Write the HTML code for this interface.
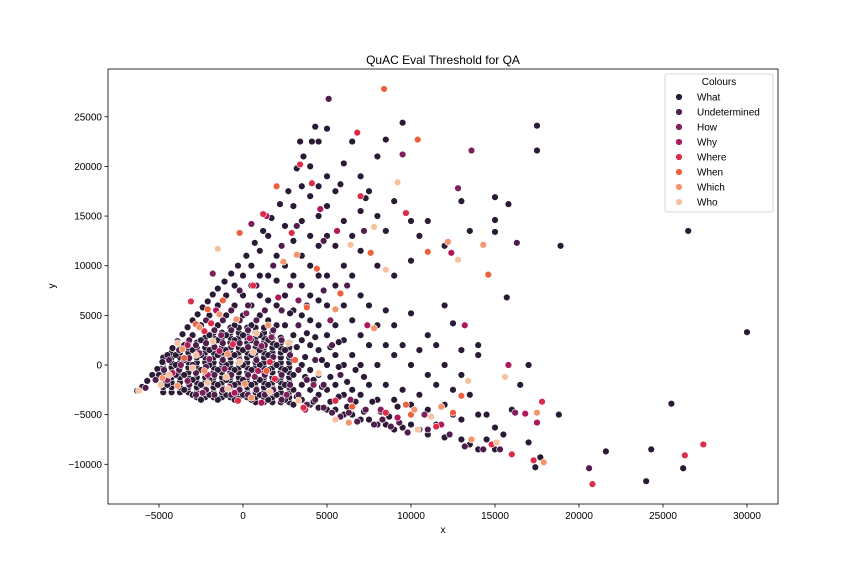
<!DOCTYPE html>
<html><head><meta charset="utf-8"><style>
body{margin:0;background:#fff;}
svg text{font-family:"Liberation Sans","DejaVu Sans",sans-serif;fill:#000;}
</style></head><body>
<svg id="chart" width="864" height="576" viewBox="0 0 864 576" xmlns="http://www.w3.org/2000/svg">
<rect width="864" height="576" fill="#fff"/>
<text x="443" y="64" text-anchor="middle" font-size="12">QuAC Eval Threshold for QA</text>
<g id="marks"></g>
<rect x="108" y="69" width="670" height="435" fill="none" stroke="#000" stroke-width="0.8"/>
<g id="xticks"></g>
<g id="yticks"></g>
<text x="443" y="533" text-anchor="middle" font-size="10">x</text>
<text x="55" y="286" text-anchor="middle" font-size="10" transform="rotate(-90 55 286)">y</text>
<g id="legend">
<rect x="665" y="74" width="108" height="138" rx="2" fill="#fff" fill-opacity="0.8" stroke="#ccc" stroke-width="0.8"/>
<text x="719" y="85" text-anchor="middle" font-size="10">Colours</text>
</g>
</svg>
<script>
const categories = ["What","Undetermined","How","Why","Where","When","Which","Who"];
const colors = ["#2a1a36","#511d4d","#7f1f5b","#b1185a","#dd2c49","#ee5f3e","#f5946b","#f6c19f"];
const xTicks = [-5000,0,5000,10000,15000,20000,25000,30000];
const yTicks = [-10000,-5000,0,5000,10000,15000,20000,25000];
// values in thousands: x,y pairs
const whatPts = [-6.3,-2.6,-6.0,-2.2,-5.7,-1.6,-5.4,-1.0,-5.1,-0.4,-4.8,0.3,-4.5,1.0,-4.2,1.7,-3.9,2.4,-3.6,3.1,-3.3,3.8,-3.0,4.5,-2.7,5.1,-2.4,5.8,-2.1,6.4,-1.8,7.1,-1.5,7.7,-1.1,8.4,-0.7,9.2,-0.3,10,0.2,11,0.7,12.3,1.2,13.5,1.7,14.8,2.2,16.2,2.7,17.5,3.2,19.8,3.6,21,4.1,22.5,4.3,24,5,23.8,
-5,-1,-4.5,-2,-4,-1,-4,0,-4,1,-3.5,-2.5,-3.5,-1,-3.5,0.5,-3.5,2,-3,-3,-3,-1.5,-3,0,-3,1.5,-3,3,-2.5,-3.5,-2.5,-2,-2.5,-0.5,-2.5,1,-2.5,2.5,-2.5,4,-2,-3,-2,-1.5,-2,0,-2,1.5,-2,3,-2,5,-1.5,-3.5,-1.5,-2,-1.5,-0.5,-1.5,1,-1.5,2.5,-1.5,4,-1.5,6,-1,-3,-1,-1.5,-1,0,-1,1.5,-1,3,-1,5,-1,7,-0.5,-3.5,-0.5,-2,-0.5,-0.5,-0.5,1,-0.5,2.5,-0.5,4,-0.5,6,-0.5,8,0,-3,0,-1.5,0,0,0,1.5,0,3,0,5,0,7,0,9,0.5,-3.5,0.5,-2,0.5,-0.5,0.5,1,0.5,2.5,0.5,4,0.5,6,0.5,8,0.5,10,1,-3,1,-1.5,1,0,1,1.5,1,3,1,5,1,7,1,9,1,11.5,1.5,-3.5,1.5,-2,1.5,-0.5,1.5,1,1.5,2.5,1.5,4.5,1.5,6.5,1.5,9,1.5,13,2,-3,2,-1.5,2,0,2,2,2,4,2,6,2,8.5,2,11,2.5,-3.5,2.5,-2,2.5,-0.5,2.5,1.5,2.5,4,2.5,7,2.5,10,2.5,14,3,-4,3,-2.5,3,-1,3,0.5,3,3,3,5.5,3,9,3,12.5,3,16,3.5,-3.5,3.5,-2,3.5,0,3.5,2.5,3.5,5,3.5,8,3.5,11,3.5,14.5,3.5,18,4,-4,4,-2.5,4,-0.5,4,2,4,4.5,4,7,4,10,4,13,4,17,4,20,4.5,-4.3,4.5,-3,4.5,-1,4.5,1.5,4.5,4,4.5,6.5,4.5,9,4.5,12,4.5,15,4.5,18,4.5,22.5,5,-4.5,5,-2.5,5,0,5,3,5,6,5,9,5,13,5,16,5,19,5.5,-4.5,5.5,-2,5.5,1,5.5,4,5.5,8,5.5,12,5.5,17.5,6,-5,6,-3,6,0,6,2.5,6,6,6,10,6,14.5,6,20.3,6.5,-5,6.5,-2.5,6.5,1,6.5,4.5,6.5,9,6.5,13,6.5,22.5,7,-5.5,7,-3,7,0,7,3,7,7,7,11.5,7,15.5,7,19,7.5,-5.5,7.5,-2,7.5,2,7.5,6,7.5,17.5,8,-6,8,-3.5,8,0,8,4,8,10,8,15,8,21,8.5,-6,8.5,-2,8.5,2,8.5,5.5,8.5,13.5,8.5,22.7,9,-6.5,9,-3.5,9,1,9,4,9,9,9,16.5,9.5,-6.3,9.5,-2.5,9.5,2,9.5,24.4,10,-6,10,-4,10,0,10,5.2,10,10.5,10,14.5,10.5,-6.5,10.5,-3,10.5,1.5,10.5,13,11,-7,11,-4.5,11,-1,11,3,11,14.5,11.5,-6,11.5,-2,11.5,2,12,-7.3,12,-4,12,0,12,6,12,12,12.5,-5,12.5,-2.5,12.5,4.2,13,-7.5,13,-5.5,13,-1,13,1.5,13,16.5,13.5,-8,13.5,-3,13.5,13.5,14,-8.5,14,-5,14,1,14,2,14.5,-7.5,14.5,-5,15,-8.5,15,-6.3,15,13.4,15,14.6,15,16.9,15.5,-7,15.7,6.8,15.8,16.2,16,-9,16,-4.5,16.5,-2,17,0,17,-7.8,17.4,-10.3,17.5,24.1,17.5,21.6,17.7,-9.3,18.8,-5,18.9,12,21.6,-8.7,24,-11.7,24.3,-8.5,25.5,-3.9,26.2,-10.4,26.5,13.5,30,3.3,7.3,16.8,5.8,18.2,3.4,22.5,
3.2,-3.2,3.7,-1.2,4.2,-3.7,4.7,-2.2,5.2,-3.7,5.7,-3.2,6.2,-4.2,6.7,-3.7,7.2,-4.7,7.7,-3.7,8.2,-4.7,8.7,-5.2,9.2,-4.2,3.2,1.8,3.7,0.8,4.2,-1.5,4.7,0.5,5.2,-1.2,5.7,-0.2,6.2,-1.7,6.7,-0.5,7.2,-1.2,5.2,1.8,3.8,3.2,4.3,2.8,2.8,5.2,5.7,2.3];
const undeterminedPts = [-5.8,-2.3,-5.2,-1.5,-4.7,-0.5,-4.4,0.5,-3.8,-0.5,-3.8,1.5,-3.2,-2,-3.2,0.7,-3.2,2.5,-2.8,-3,-2.8,-0.8,-2.8,2,-2.2,-2.5,-2.2,-0.2,-2.2,2.2,-2.2,4.5,-1.7,-3,-1.7,-1,-1.7,1.8,-1.7,3.5,-1.2,-2.5,-1.2,0.5,-1.2,2.2,-1.2,4.5,-1.2,6.5,-0.7,-3,-0.7,-1,-0.7,1.8,-0.7,3.5,-0.7,5.5,-0.2,-2.5,-0.2,0.5,-0.2,2.2,-0.2,4.5,-0.2,7.5,0.3,-3,0.3,-1,0.3,1.8,0.3,3.5,0.3,6,0.8,-2.5,0.8,0.5,0.8,2.2,0.8,4.5,0.8,8,1.3,-3,1.3,-1,1.3,2,1.3,5.5,1.8,-2.5,1.8,0.8,1.8,3.5,1.8,10,2.3,-3.5,2.3,-1,2.3,2.5,2.3,5.5,2.8,-2,2.8,1,2.8,8,3.3,-3,3.3,-0.5,3.3,4,3.8,-4,3.8,-1.5,3.8,6,4.3,-3.5,4.3,0.5,4.8,-4.3,4.8,-2,4.8,7.5,5.3,-4.8,5.3,2,5.1,26.8,5.8,-5.2,5.8,-1,6.3,-4.8,6.8,-5.7,7.3,-4.5,7.8,-6,8.3,-5.5,8.8,-6.2,9.3,-5.8,9.8,-6.8,11,-6.5,12.3,-7,13.2,-8.2,14.3,-8.5,16.3,12.3,20.6,-10.4,15.3,-8.5,4.8,12.5,6.2,8,7.2,13.5,3.2,14,2.3,12];
const coreWhatPts = [
0.75,-3.75,1.25,-3.75,1.75,-3.75,2.25,-3.75,2.75,-3.75,
-2.75,-3.25,-2.25,-3.25,-1.75,-3.25,-1.25,-3.25,-0.75,-3.25,-0.25,-3.25,0.25,-3.25,0.75,-3.25,1.25,-3.25,1.75,-3.25,2.25,-3.25,2.75,-3.25,
-4.75,-2.75,-4.25,-2.75,-3.75,-2.75,-3.25,-2.75,-2.75,-2.75,-2.25,-2.75,-1.75,-2.75,-1.25,-2.75,-0.75,-2.75,-0.25,-2.75,0.25,-2.75,0.75,-2.75,1.25,-2.75,1.75,-2.75,2.25,-2.75,2.75,-2.75,
-4.75,-2.25,-4.25,-2.25,-3.75,-2.25,-3.25,-2.25,-2.75,-2.25,-2.25,-2.25,-1.75,-2.25,-1.25,-2.25,-0.75,-2.25,-0.25,-2.25,0.25,-2.25,0.75,-2.25,1.25,-2.25,1.75,-2.25,2.25,-2.25,2.75,-2.25,
-4.75,-1.75,-4.25,-1.75,-3.75,-1.75,-3.25,-1.75,-2.75,-1.75,-2.25,-1.75,-1.75,-1.75,-1.25,-1.75,-0.75,-1.75,-0.25,-1.75,0.25,-1.75,0.75,-1.75,1.25,-1.75,1.75,-1.75,2.25,-1.75,2.75,-1.75,
-4.75,-1.25,-4.25,-1.25,-3.75,-1.25,-3.25,-1.25,-2.75,-1.25,-2.25,-1.25,-1.75,-1.25,-1.25,-1.25,-0.75,-1.25,-0.25,-1.25,0.25,-1.25,0.75,-1.25,1.25,-1.25,1.75,-1.25,2.25,-1.25,2.75,-1.25,
-4.75,-0.75,-4.25,-0.75,-3.75,-0.75,-3.25,-0.75,-2.75,-0.75,-2.25,-0.75,-1.75,-0.75,-1.25,-0.75,-0.75,-0.75,-0.25,-0.75,0.25,-0.75,0.75,-0.75,1.25,-0.75,1.75,-0.75,2.25,-0.75,2.75,-0.75,
-4.75,-0.25,-4.25,-0.25,-3.75,-0.25,-3.25,-0.25,-2.75,-0.25,-2.25,-0.25,-1.75,-0.25,-1.25,-0.25,-0.75,-0.25,-0.25,-0.25,0.25,-0.25,0.75,-0.25,1.25,-0.25,1.75,-0.25,2.25,-0.25,2.75,-0.25,
-4.75,0.25,-4.25,0.25,-3.75,0.25,-3.25,0.25,-2.75,0.25,-2.25,0.25,-1.75,0.25,-1.25,0.25,-0.75,0.25,-0.25,0.25,0.25,0.25,0.75,0.25,1.25,0.25,1.75,0.25,2.25,0.25,2.75,0.25,
-4.75,0.75,-4.25,0.75,-3.75,0.75,-3.25,0.75,-2.75,0.75,-2.25,0.75,-1.75,0.75,-1.25,0.75,-0.75,0.75,-0.25,0.75,0.25,0.75,0.75,0.75,1.25,0.75,1.75,0.75,2.25,0.75,2.75,0.75,
-4.25,1.25,-3.75,1.25,-3.25,1.25,-2.75,1.25,-2.25,1.25,-1.75,1.25,-1.25,1.25,-0.75,1.25,-0.25,1.25,0.25,1.25,0.75,1.25,1.25,1.25,1.75,1.25,2.25,1.25,2.75,1.25,
-3.75,1.75,-3.25,1.75,-2.75,1.75,-2.25,1.75,-1.75,1.75,-1.25,1.75,-0.75,1.75,-0.25,1.75,0.25,1.75,0.75,1.75,1.25,1.75,1.75,1.75,2.25,1.75,2.75,1.75,
-3.25,2.25,-2.75,2.25,-2.25,2.25,-1.75,2.25,-1.25,2.25,-0.75,2.25,-0.25,2.25,0.25,2.25,0.75,2.25,1.25,2.25,1.75,2.25,2.25,2.25,2.75,2.25,
-2.25,2.75,-1.75,2.75,-1.25,2.75,-0.75,2.75,-0.25,2.75,0.25,2.75,0.75,2.75,1.25,2.75,1.75,2.75,2.25,2.75,
-1.75,3.25,-1.25,3.25,-0.75,3.25,-0.25,3.25,0.25,3.25,0.75,3.25,1.25,3.25,1.75,3.25,
-0.75,3.75,-0.25,3.75,0.25,3.75,0.75,3.75,1.25,3.75];
const howPts = [-4.5,-1.5,-3.7,0,-2.6,1.2,-2.4,-2.8,-1.3,3,-0.8,-2.2,0.2,5.2,0.7,-1.2,1.7,2.8,2.6,-3,3.3,6.5,4.2,-2,5.2,4.5,6.4,-3.5,8.2,-4.5,10.8,-5,13.6,21.6,16.2,-4.8,12.8,17.8,9.5,21.2,-1.8,9.2,0.5,14.2,-3.3,-1.6,-1.1,-0.4,1.1,1.9,-2.0,0.6];
const whyPts = [-4.2,-0.8,-3.3,2,-2.1,-1,-1.6,5.5,-0.5,-2.8,0.4,2.7,1.1,-3.8,2.1,6.8,3.7,-4.5,4.6,15.7,5.6,13.5,7.4,4,9.2,-5.3,11.8,-6,13.2,4,15.8,0,16.8,-4.9,17.5,-5.8,12.4,11.3,1.4,15,-1.4,1.4,0.9,-0.6];
const wherePts = [-3.1,6.4,-1.9,4.2,-0.3,-3.6,0.6,8,1.9,-1.4,2.9,13.3,3.4,20.2,4.1,18.3,6.8,23.4,7,17,9.7,15.3,11.5,-6.2,14.8,-8,16,-9,17.8,-3.7,17.3,-9.6,20.8,-12,26.3,-9.1,27.4,-8,3.6,-4.3,5.5,-3.6,8.5,-4.8,1.2,15.2,-2.3,3.4,1.6,0.3,-0.6,2.1];
const whenPts = [8.4,27.8,10.4,22.7,14.6,9.1,11,11.4,13,-3.1,12.5,-4.8,7.6,11.3,5.8,7.2,4.4,9.7,3.8,5.8,2,18,-0.2,13.3,-2.1,5.6,-1.2,6.5,1.4,-0.6,10,-5,9.7,-4,6.5,-4.2,3.1,0.5,-3.5,0.7,-2.8,4.1];
const whichPts = [-4.8,-1.3,-3.6,1.6,-2.6,3.8,-1.4,5.1,-0.9,1.1,-0.4,4.6,0.5,-3.3,1.5,4,2.4,10.4,3.2,11.1,5.5,5.6,7.8,3.7,10.2,-4.5,11.8,-4.2,13.6,-7.5,17.5,-4.8,17.9,-9.8,14.3,12.1,12.2,12.4,6.3,-5.8,-3.9,-2.1,-2.3,-0.6,0.1,-1.9];
const whoPts = [-6.2,-2.6,-4.9,-2,-3.9,2.2,-2.8,1,-2.1,-1.8,-1.5,11.7,-0.9,-2.4,-0.2,0.3,0.8,3.2,1.6,-2.7,2.7,2.2,3.3,-3.6,4.5,-0.8,5.5,-5.5,6.4,12.1,7.8,13.9,8.5,9.6,10.4,-6.5,11.2,-5.2,13.4,-1.6,15.1,-7.8,15.6,-1.2,12.8,10.6,9.2,18.4,-4.4,-1.0,-3.0,-0.3,-1.8,2.4,-1.0,-1.2,0.6,1.3];
const seriesCats = [0,0,1,2,3,4,5,6,7];
const series = [coreWhatPts,whatPts,undeterminedPts,howPts,whyPts,wherePts,whenPts,whichPts,whoPts];

const NS = "http://www.w3.org/2000/svg";
function xScale(v){return 243 + v*0.0168;}
function yScale(v){return 365 - v*0.00993;}

const marks = document.getElementById('marks');
series.forEach((pts,si)=>{
  const ci = seriesCats[si];
  for(let i=0;i<pts.length;i+=2){
    const c=document.createElementNS(NS,'circle');
    c.setAttribute('cx',xScale(pts[i]*1000));
    c.setAttribute('cy',yScale(pts[i+1]*1000));
    c.setAttribute('r',3.4);
    c.setAttribute('fill',colors[ci]);
    c.setAttribute('stroke','#fff');
    c.setAttribute('stroke-width',0.6);
    
    
    marks.appendChild(c);
  }
});

const xg=document.getElementById('xticks');
xTicks.forEach(t=>{
  const x=xScale(t);
  const l=document.createElementNS(NS,'line');
  l.setAttribute('x1',x);l.setAttribute('x2',x);l.setAttribute('y1',504);l.setAttribute('y2',507.5);
  l.setAttribute('stroke','#000');l.setAttribute('stroke-width',0.8);
  
  
  xg.appendChild(l);
  const tx=document.createElementNS(NS,'text');
  tx.setAttribute('x',x);tx.setAttribute('y',519);tx.setAttribute('text-anchor','middle');tx.setAttribute('font-size','10');
  tx.textContent=(t<0?'\u2212'+(-t):t);
  
  
  xg.appendChild(tx);
});
const yg=document.getElementById('yticks');
yTicks.forEach(t=>{
  const y=yScale(t);
  const l=document.createElementNS(NS,'line');
  l.setAttribute('x1',104.5);l.setAttribute('x2',108);l.setAttribute('y1',y);l.setAttribute('y2',y);
  l.setAttribute('stroke','#000');l.setAttribute('stroke-width',0.8);
  
  
  yg.appendChild(l);
  const tx=document.createElementNS(NS,'text');
  tx.setAttribute('x',102);tx.setAttribute('y',y+3.5);tx.setAttribute('text-anchor','end');tx.setAttribute('font-size','10');
  tx.textContent=(t<0?'\u2212'+(-t):t);
  
  
  yg.appendChild(tx);
});

const lg=document.getElementById('legend');
categories.forEach((name,i)=>{
  const y=97+i*15;
  const c=document.createElementNS(NS,'circle');
  c.setAttribute('cx',679);c.setAttribute('cy',y);c.setAttribute('r',3.4);
  c.setAttribute('fill',colors[i]);c.setAttribute('stroke','#fff');c.setAttribute('stroke-width',0.6);
  
  
  lg.appendChild(c);
  const tx=document.createElementNS(NS,'text');
  tx.setAttribute('x',697);tx.setAttribute('y',y+3.5);tx.setAttribute('font-size','10');
  tx.textContent=name;
  
  
  lg.appendChild(tx);
});
</script>
</body></html>
